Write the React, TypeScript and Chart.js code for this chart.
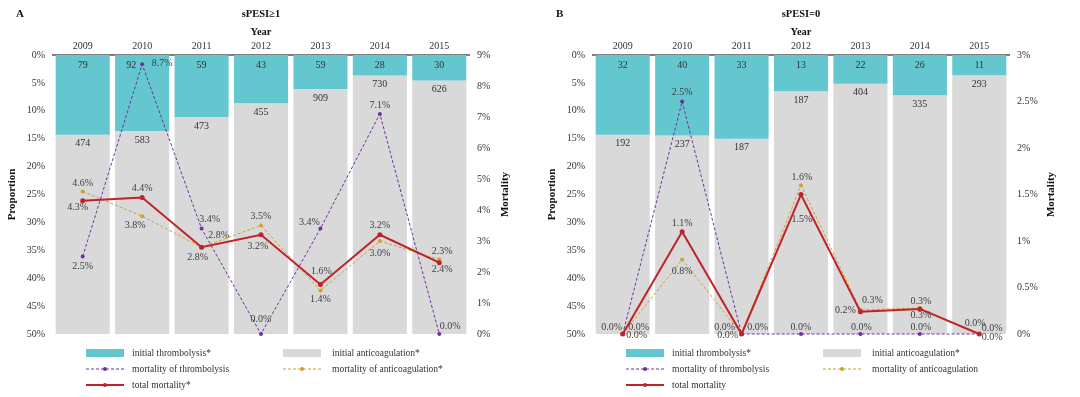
import React, { useEffect, useRef } from "react";
import { Chart, registerables } from "chart.js";

Chart.register(...registerables);

const FONT = "'Liberation Serif', 'Times New Roman', serif";

const years = ["2009", "2010", "2011", "2012", "2013", "2014", "2015"];

// Panel A: sPESI≥1
const aThrombCount = [79, 92, 59, 43, 59, 28, 30];
const aAnticoagCount = [474, 583, 473, 455, 909, 730, 626];
const aMortThromb = [2.5, 8.7, 3.4, 0.0, 3.4, 7.1, 0.0];
const aMortAnticoag = [4.6, 3.8, 2.8, 3.5, 1.4, 3.0, 2.4];
const aMortTotal = [4.3, 4.4, 2.8, 3.2, 1.6, 3.2, 2.3];

// Panel B: sPESI=0
const bThrombCount = [32, 40, 33, 13, 22, 26, 11];
const bAnticoagCount = [192, 237, 187, 187, 404, 335, 293];
const bMortThromb = [0.0, 2.5, 0.0, 0.0, 0.0, 0.0, 0.0];
const bMortAnticoag = [0.0, 0.8, 0.0, 1.6, 0.26, 0.28, 0.0];
const bMortTotal = [0.0, 1.1, 0.0, 1.5, 0.24, 0.27, 0.0];

// label offsets (style only) for the mortality labels [dx, dy]
const aLabelOffsets = {
  thromb: [[0, 10], [20, -1], [8, -9], [0, -15], [-11, -6], [0, -9], [11, -8]],
  anticoag: [[0, -8], [-7, 9], [-4, 10], [0, -9], [0, 9], [0, 12], [3, 10]],
  total: [[-5, 7], [0, -9], [17, -12], [-3, 12], [1, -13], [0, -9], [3, -11]],
  countDx: [0, -11, 0, 0, 0, 0, 0],
};
const bLabelOffsets = {
  thromb: [[16, -7], [0, -9], [16, -7], [0, -7], [1, -7], [1, -7], [13, -6]],
  anticoag: [[14, 1], [0, 12], [-14, 1], [1, -8], [12, -9], [1, 7], [13, 3]],
  total: [[-11, -7], [0, -8], [-17, -7], [1, 25], [-15, -1], [1, -8], [-4, -11]],
  countDx: [0, 0, 0, 0, 0, 0, 0],
};

const TEAL = "#64C6CE";
const GREY = "#D9D9D9";
const PURPLE = "#7030A0";
const GOLD = "#CFA02E";
const RED = "#C0222A";
const TEXT = "#333333";

type Panel = {
  letter: string;
  title: string;
  thromb: number[];
  anticoag: number[];
  mThromb: number[];
  mAnticoag: number[];
  mTotal: number[];
  rightMax: number;
  rightStep: number;
  anticoagLabel: string;
  totalLabel: string;
  offsets: any;
  mortTitleX: number;
};

const panels: Panel[] = [
  {
    letter: "A",
    title: "sPESI≥1",
    thromb: aThrombCount,
    anticoag: aAnticoagCount,
    mThromb: aMortThromb,
    mAnticoag: aMortAnticoag,
    mTotal: aMortTotal,
    rightMax: 9,
    rightStep: 1,
    anticoagLabel: "mortality of anticoagulation*",
    totalLabel: "total mortality*",
    offsets: aLabelOffsets,
    mortTitleX: 505,
  },
  {
    letter: "B",
    title: "sPESI=0",
    thromb: bThrombCount,
    anticoag: bAnticoagCount,
    mThromb: bMortThromb,
    mAnticoag: bMortAnticoag,
    mTotal: bMortTotal,
    rightMax: 3,
    rightStep: 0.5,
    anticoagLabel: "mortality of anticoagulation",
    totalLabel: "total mortality",
    offsets: bLabelOffsets,
    mortTitleX: 511,
  },
];

function makeConfig(p: Panel): any {
  const tPct = p.thromb.map((t, i) => (t / (t + p.anticoag[i])) * 100);
  const aPct = p.anticoag.map((a, i) => (a / (p.thromb[i] + a)) * 100);

  const decorPlugin = {
    id: "decor",
    afterDatasetsDraw(chart: any) {
      const ctx = chart.ctx;
      ctx.save();
      // bar count labels
      ctx.font = `10px ${FONT}`;
      ctx.fillStyle = TEXT;
      ctx.textAlign = "center";
      ctx.textBaseline = "middle";
      const tMeta = chart.getDatasetMeta(3);
      const aMeta = chart.getDatasetMeta(4);
      tMeta.data.forEach((el: any, i: number) => {
        const top = Math.min(el.y, el.base);
        const bottom = Math.max(el.y, el.base);
        ctx.fillText(String(p.thromb[i]), el.x + p.offsets.countDx[i], top + 10);
        const aEl = aMeta.data[i];
        ctx.fillText(String(p.anticoag[i]), aEl.x, bottom + 9);
      });
      // mortality labels
      const keys = ["thromb", "anticoag", "total"];
      const vals = [p.mThromb, p.mAnticoag, p.mTotal];
      ctx.font = `10px ${FONT}`;
      ctx.fillStyle = "#404040";
      keys.forEach((k, di) => {
        const meta = chart.getDatasetMeta(di);
        meta.data.forEach((el: any, i: number) => {
          const [dx, dy] = p.offsets[k][i];
          ctx.fillText(vals[di][i].toFixed(1) + "%", el.x + dx, el.y + dy);
        });
      });
      ctx.restore();
    },
    afterDraw(chart: any) {
      const ctx = chart.ctx;
      const ca = chart.chartArea;
      const cx = (ca.left + ca.right) / 2;
      const cy = (ca.top + ca.bottom) / 2;
      ctx.save();
      ctx.fillStyle = "#111111";
      ctx.textBaseline = "middle";
      ctx.textAlign = "left";
      ctx.font = `bold 11px ${FONT}`;
      ctx.fillText(p.letter, 16, 14);
      ctx.textAlign = "center";
      ctx.font = `bold 10.5px ${FONT}`;
      ctx.fillText(p.title, cx, 14);
      ctx.font = `bold 10.5px ${FONT}`;
      ctx.fillText("Year", cx, 32);
      ctx.font = `bold 11px ${FONT}`;
      // vertical titles
      ctx.save();
      ctx.translate(12, cy);
      ctx.rotate(-Math.PI / 2);
      ctx.fillText("Proportion", 0, 0);
      ctx.restore();
      ctx.save();
      ctx.translate(p.mortTitleX, cy);
      ctx.rotate(-Math.PI / 2);
      ctx.fillText("Mortality", 0, 0);
      ctx.restore();

      // legend
      const rows = [353, 369, 385];
      const cols = [86, 283];
      const sw = 38;
      const items = [
        { ds: 3, type: "bar" },
        { ds: 4, type: "bar" },
        { ds: 0, type: "line" },
        { ds: 1, type: "line" },
        { ds: 2, type: "line" },
      ];
      ctx.font = `9.5px ${FONT}`;
      ctx.textAlign = "left";
      ctx.fillStyle = TEXT;
      items.forEach((it, idx) => {
        const x = cols[idx % 2];
        const y = rows[Math.floor(idx / 2)];
        const ds = chart.data.datasets[it.ds];
        if (it.type === "bar") {
          ctx.fillStyle = ds.backgroundColor;
          ctx.fillRect(x, y - 4, sw, 8);
        } else {
          ctx.strokeStyle = ds.borderColor;
          ctx.lineWidth = ds.borderWidth;
          ctx.setLineDash(ds.borderDash || []);
          ctx.beginPath();
          ctx.moveTo(x, y);
          ctx.lineTo(x + sw, y);
          ctx.stroke();
          ctx.setLineDash([]);
          ctx.fillStyle = ds.borderColor;
          ctx.beginPath();
          ctx.arc(x + sw / 2, y, 2, 0, Math.PI * 2);
          ctx.fill();
        }
        ctx.fillStyle = TEXT;
        ctx.fillText(ds.label, x + (idx % 2 === 0 ? 46 : 49), y);
      });
      ctx.restore();
    },
  };

  return {
    type: "bar",
    data: {
      labels: years,
      datasets: [
        {
          type: "line",
          label: "mortality of thrombolysis",
          data: p.mThromb,
          yAxisID: "y1",
          borderColor: PURPLE,
          backgroundColor: PURPLE,
          borderWidth: 1,
          borderDash: [3, 2],
          pointRadius: 2,
          pointBorderWidth: 0,
          pointBackgroundColor: PURPLE,
          clip: false,
          order: 0,
        },
        {
          type: "line",
          label: p.anticoagLabel,
          data: p.mAnticoag,
          yAxisID: "y1",
          borderColor: GOLD,
          backgroundColor: GOLD,
          borderWidth: 1,
          borderDash: [3, 2],
          pointRadius: 2,
          pointBorderWidth: 0,
          pointBackgroundColor: GOLD,
          clip: false,
          order: 0,
        },
        {
          type: "line",
          label: p.totalLabel,
          data: p.mTotal,
          yAxisID: "y1",
          borderColor: RED,
          backgroundColor: RED,
          borderWidth: 2,
          pointRadius: 2.5,
          pointBorderWidth: 0,
          pointBackgroundColor: RED,
          clip: false,
          order: -1,
        },
        {
          type: "bar",
          label: "initial thrombolysis*",
          data: tPct,
          yAxisID: "y",
          backgroundColor: TEAL,
          stack: "s",
          barPercentage: 0.91,
          categoryPercentage: 1,
          clip: 0,
          order: 2,
        },
        {
          type: "bar",
          label: "initial anticoagulation*",
          data: aPct,
          yAxisID: "y",
          backgroundColor: GREY,
          stack: "s",
          barPercentage: 0.91,
          categoryPercentage: 1,
          clip: 0,
          order: 2,
        },
      ],
    },
    options: {
      responsive: false,
      animation: false,
      layout: { padding: { left: 0, right: 0, top: 0, bottom: 63 } },
      plugins: {
        legend: { display: false },
        tooltip: { enabled: false },
        title: { display: false },
      },
      scales: {
        x: {
          position: "top",
          stacked: true,
          grid: { display: false, drawTicks: false },
          border: { display: true, color: "#7F7F7F", width: 2 },
          ticks: { color: TEXT, font: { family: FONT, size: 10 }, padding: 3 },
          afterFit: (s: any) => {
            s.height = 55;
          },
        },
        y: {
          position: "left",
          stacked: true,
          reverse: true,
          min: 0,
          max: 50,
          grid: { display: false, drawTicks: false },
          border: { display: false },
          ticks: {
            stepSize: 5,
            color: TEXT,
            font: { family: FONT, size: 10 },
            padding: 8,
            callback: (v: any) => v + "%",
          },
          afterFit: (s: any) => {
            s.width = 53;
          },
        },
        y1: {
          position: "right",
          min: 0,
          max: p.rightMax,
          grid: { display: false, drawTicks: false },
          border: { display: false },
          ticks: {
            stepSize: p.rightStep,
            color: TEXT,
            font: { family: FONT, size: 10 },
            padding: 8,
            callback: (v: any) => v + "%",
          },
          afterFit: (s: any) => {
            s.width = 71;
          },
        },
      },
    },
    plugins: [decorPlugin],
  };
}

function PanelChart({ panel }: { panel: Panel }) {
  const ref = useRef<HTMLCanvasElement | null>(null);
  useEffect(() => {
    if (!ref.current) return;
    const chart = new Chart(ref.current, makeConfig(panel));
    return () => chart.destroy();
  }, [panel]);
  return (
    <canvas
      ref={ref}
      width={540}
      height={397}
      style={{ display: "block", width: 540, height: 397 }}
    />
  );
}

export default function App() {
  return (
    <div
      style={{
        position: "absolute",
        left: 0,
        top: 0,
        width: 1080,
        height: 397,
        display: "flex",
        background: "#ffffff",
      }}
    >
      <PanelChart panel={panels[0]} />
      <PanelChart panel={panels[1]} />
    </div>
  );
}
